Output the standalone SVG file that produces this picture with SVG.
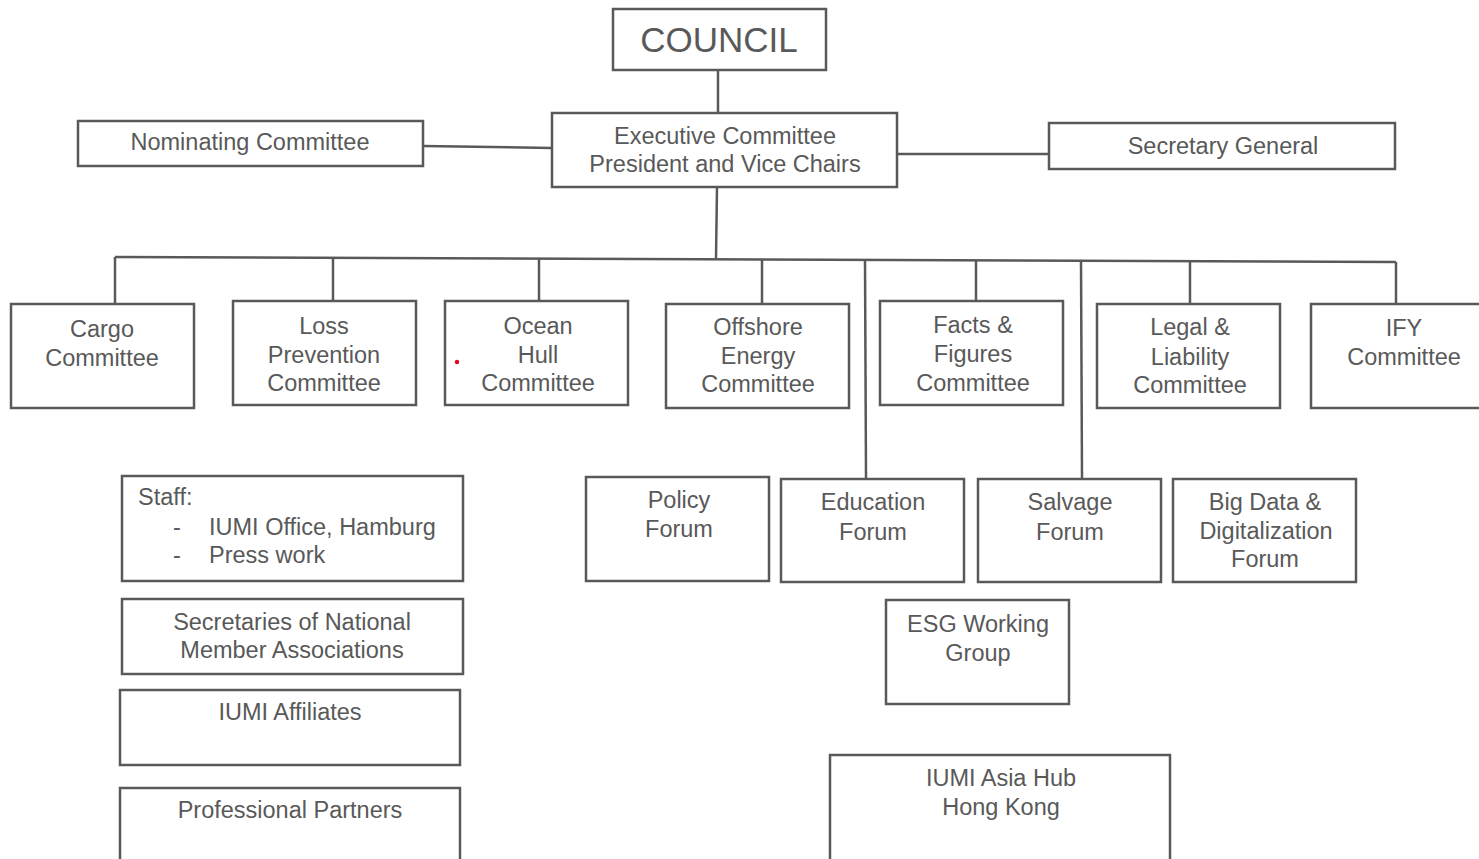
<svg xmlns="http://www.w3.org/2000/svg" width="1479" height="859" viewBox="0 0 1479 859">
<style>
rect.b{fill:#fff;stroke:#595959;stroke-width:2.5}
text{font-family:"Liberation Sans",Arial,sans-serif;font-size:23.5px;fill:#595959}
.c{text-anchor:middle}
#connectors line,#connectors polyline{stroke:#595959;stroke-width:2.5;fill:none}
</style>
<rect width="1479" height="859" fill="#fff"/>
<g id="connectors">
<line x1="718" y1="70" x2="718" y2="113"/>
<line x1="423" y1="146" x2="552" y2="148"/>
<line x1="897" y1="154" x2="1049" y2="154"/>
<line x1="717" y1="187" x2="716" y2="258.5"/>
<line x1="115" y1="257" x2="1396" y2="262"/>
<line x1="115" y1="257" x2="115" y2="304"/>
<line x1="333" y1="257.9" x2="333" y2="301"/>
<line x1="539" y1="258.7" x2="539" y2="301"/>
<line x1="762" y1="259.5" x2="762" y2="304"/>
<line x1="865" y1="259.9" x2="866" y2="478"/>
<line x1="976" y1="260.4" x2="976" y2="301"/>
<line x1="1081" y1="260.8" x2="1082" y2="478"/>
<line x1="1190" y1="261.2" x2="1190" y2="304"/>
<line x1="1396" y1="262" x2="1396" y2="304"/>
</g>
<g id="council"><rect class="b" x="613" y="9" width="213" height="61"/><text class="c" x="719" y="52" style="font-size:35px">COUNCIL</text></g>
<g id="executive"><rect class="b" x="552" y="113" width="345" height="74"/><text class="c" x="725" y="144">Executive Committee</text><text class="c" x="725" y="172">President and Vice Chairs</text></g>
<g id="nominating"><rect class="b" x="78" y="121" width="345" height="45"/><text class="c" x="250" y="150">Nominating Committee</text></g>
<g id="secretary"><rect class="b" x="1049" y="123" width="346" height="46"/><text class="c" x="1223" y="154">Secretary General</text></g>
<g id="cargo"><rect class="b" x="11" y="304" width="183" height="104"/><text class="c" x="102" y="337">Cargo</text><text class="c" x="102" y="366">Committee</text></g>
<g id="loss"><rect class="b" x="233" y="301" width="183" height="104"/><text class="c" x="324" y="334">Loss</text><text class="c" x="324" y="363">Prevention</text><text class="c" x="324" y="391">Committee</text></g>
<g id="ocean"><rect class="b" x="445" y="301" width="183" height="104"/><text class="c" x="538" y="334">Ocean</text><text class="c" x="538" y="363">Hull</text><text class="c" x="538" y="391">Committee</text><circle cx="457" cy="362" r="2.2" fill="#e8001c"/></g>
<g id="offshore"><rect class="b" x="666" y="304" width="183" height="104"/><text class="c" x="758" y="335">Offshore</text><text class="c" x="758" y="364">Energy</text><text class="c" x="758" y="392">Committee</text></g>
<g id="facts"><rect class="b" x="880" y="301" width="183" height="104"/><text class="c" x="973" y="333">Facts &amp;</text><text class="c" x="973" y="362">Figures</text><text class="c" x="973" y="391">Committee</text></g>
<g id="legal"><rect class="b" x="1097" y="304" width="183" height="104"/><text class="c" x="1190" y="335">Legal &amp;</text><text class="c" x="1190" y="365">Liability</text><text class="c" x="1190" y="393">Committee</text></g>
<g id="ify"><rect class="b" x="1311" y="304" width="183" height="104"/><text class="c" x="1404" y="336">IFY</text><text class="c" x="1404" y="365">Committee</text></g>
<g id="policy"><rect class="b" x="586" y="477" width="183" height="104"/><text class="c" x="679" y="508">Policy</text><text class="c" x="679" y="537">Forum</text></g>
<g id="education"><rect class="b" x="781" y="479" width="183" height="103"/><text class="c" x="873" y="510">Education</text><text class="c" x="873" y="540">Forum</text></g>
<g id="salvage"><rect class="b" x="978" y="479" width="183" height="103"/><text class="c" x="1070" y="510">Salvage</text><text class="c" x="1070" y="540">Forum</text></g>
<g id="bigdata"><rect class="b" x="1173" y="479" width="183" height="103"/><text class="c" x="1265" y="510">Big Data &amp;</text><text class="c" x="1266" y="539">Digitalization</text><text class="c" x="1265" y="567">Forum</text></g>
<g id="esg"><rect class="b" x="886" y="600" width="183" height="104"/><text class="c" x="978" y="632">ESG Working</text><text class="c" x="978" y="661">Group</text></g>
<g id="asiahub"><rect class="b" x="830" y="755" width="340" height="120"/><text class="c" x="1001" y="786">IUMI Asia Hub</text><text class="c" x="1001" y="815">Hong Kong</text></g>
<g id="staff"><rect class="b" x="122" y="476" width="341" height="105"/><text x="138" y="505">Staff:</text><text x="173" y="535">-</text><text x="209" y="535">IUMI Office, Hamburg</text><text x="173" y="563">-</text><text x="209" y="563">Press work</text></g>
<g id="secretaries"><rect class="b" x="122" y="599" width="341" height="75"/><text class="c" x="292" y="630">Secretaries of National</text><text class="c" x="292" y="658">Member Associations</text></g>
<g id="affiliates"><rect class="b" x="120" y="690" width="340" height="75"/><text class="c" x="290" y="720">IUMI Affiliates</text></g>
<g id="partners"><rect class="b" x="120" y="788" width="340" height="90"/><text class="c" x="290" y="818">Professional Partners</text></g>
</svg>
